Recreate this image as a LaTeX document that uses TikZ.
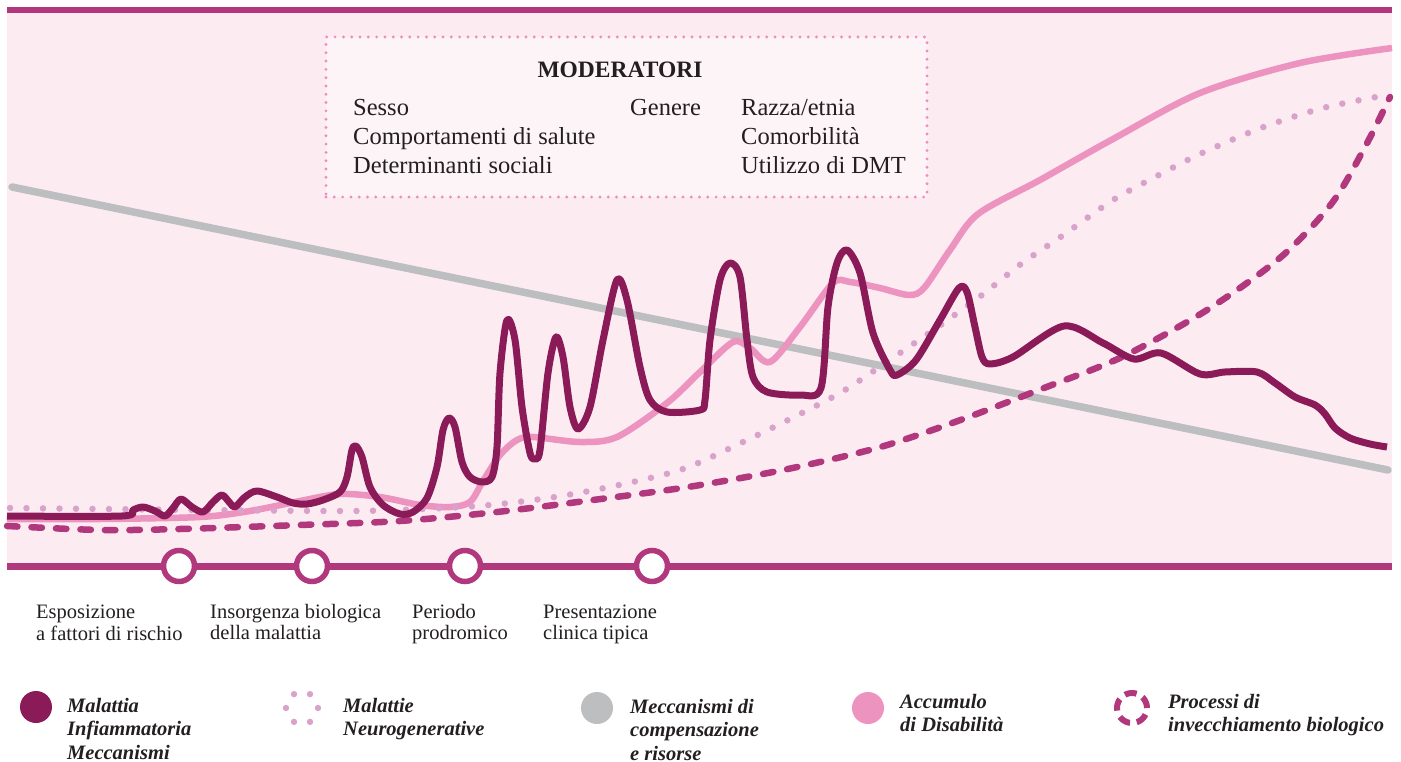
\documentclass[tikz,border=0pt]{standalone}
\usepackage{fontspec}
\setmainfont{Liberation Serif}
\definecolor{barmag}{HTML}{B2387E}
\definecolor{darkinf}{HTML}{8B1B58}
\definecolor{panel}{HTML}{FCECF2}
\definecolor{accpink}{HTML}{EC94BF}
\definecolor{neurodot}{HTML}{D8A2CA}
\definecolor{compgray}{HTML}{BCBEC0}
\definecolor{boxdot}{HTML}{EF8DBC}
\definecolor{boxfill}{HTML}{FDF4F7}
\definecolor{ink}{HTML}{231F20}
\tikzset{
  modbox/.style={draw=boxdot, fill=boxfill, line width=3.2pt, line cap=round,
    dash pattern=on 0pt off 8.3pt, minimum width=601pt, minimum height=160pt},
  modtxt/.style={anchor=north west, inner sep=0pt, align=left, text=ink,
    font=\fontsize{24.5}{29}\selectfont},
  tltxt/.style={anchor=north west, inner sep=0pt, align=left, text=ink,
    font=\fontsize{20.5}{20.5}\selectfont},
  legtxt/.style={anchor=north west, inner sep=0pt, align=left, text=ink,
    font=\fontsize{20.5}{23.5}\selectfont\bfseries\itshape},
  stage/.style={circle, draw=barmag, fill=white, line width=5.5pt,
    minimum size=31pt, inner sep=0pt},
  legdot/.style={circle, minimum size=32pt, inner sep=0pt},
  darkline/.style={draw=darkinf, line width=7pt, line join=round},
  pinkline/.style={draw=accpink, line width=6.5pt, line join=round},
  neuroline/.style={draw=neurodot, line width=6.5pt, line cap=round, dash pattern=on 0pt off 16.5pt},
  ageline/.style={draw=barmag, line width=6.5pt, line cap=round, dash pattern=on 10.5pt off 14pt},
}
\begin{document}
\begin{tikzpicture}[x=1pt,y=-1pt]
\useasboundingbox (0,0) rectangle (1401,762);

% sfondo
\fill[panel] (7,7) rectangle (1392,566);
\fill[barmag] (7,7.5) rectangle (1392,13.5);

% riquadro moderatori
\node[modbox] (box) at (626.5,117) {};
\node[anchor=base, inner sep=0pt, text=ink, font=\fontsize{23.5}{23.5}\selectfont\bfseries] (title) at (620,78) {MODERATORI};
\node[modtxt] (col1) at (353,94.7) {\strut Sesso\\Comportamenti di salute\\Determinanti sociali};
\node[modtxt] (col2) at (630,94.7) {\strut Genere};
\node[modtxt] (col3) at (741,94.7) {\strut Razza/etnia\\Comorbilità\\Utilizzo di DMT};

% curve
\coordinate (g0) at (12,187);
\coordinate (g1) at (1388,470);
\draw[compgray, line width=7.5pt, line cap=round] (g0) -- (g1);

\draw[pinkline] plot[smooth] coordinates {(7,519) (100,519) (200,517) (250,511) (300,501)
  (340,494) (380,497) (420,505) (450,507) (470,502) (483,481) (500,455) (517,440) (533,437)
  (580,442) (617,437) (667,403) (700,372) (733,342) (750,348) (770,362) (800,327) (833,283)
  (850,282) (880,288) (909,295) (924,288) (950,250) (978,214) (1040,180) (1113,139)
  (1200,93) (1300,63) (1392,48)};

\draw[neuroline] plot[smooth] coordinates {(10,508) (200,510) (350,511) (423,509) (490,505)
  (555,497) (619,485) (683,469) (743,442) (802,413) (845,390) (900,353) (942,324) (982,295)
  (1021,264) (1062,236) (1113,200) (1157,176) (1200,154) (1261,128) (1323,108) (1387,95)};

\draw[ageline] plot[smooth] coordinates {(7,526) (100,530) (180,529) (300,525) (400,521)
  (497,512) (593,500) (688,487) (783,470) (877,448) (955,422) (1044,388) (1122,357)
  (1207,310) (1281,257) (1332,203) (1365,147) (1390,97)};

\draw[darkline] plot[smooth] coordinates {(7,516) (122,516) (133,510) (143,507) (155,511)
  (165,516) (173,508) (181,499) (192,507) (203,512) (213,502) (222,495) (230,503) (235,507)
  (245,497) (257,491) (277,497) (293,503) (307,504) (323,500) (340,492) (347,477) (352,450)
  (356,446) (362,457) (370,487) (383,505) (400,514) (413,512) (427,498) (437,467) (443,430)
  (449,418) (455,427) (462,462) (470,477) (482,482) (492,477) (497,447) (500,373) (507,320)
  (515,340) (522,407) (530,453) (535,459) (540,450) (548,373) (556,337) (563,357) (570,407)
  (578,429) (590,407) (603,340) (617,280) (627,300) (640,367) (650,400) (667,412) (700,410)
  (705,400) (710,340) (720,280) (730,263) (740,277) (747,340) (753,377) (767,392) (800,395)
  (821,388) (828,307) (837,263) (847,250) (860,273) (873,333) (890,370) (897,375) (916,360)
  (940,320) (959,288) (967,292) (975,327) (982,357) (990,364) (1013,357) (1064,326)
  (1103,343) (1134,359) (1161,353) (1200,374) (1225,372) (1257,372) (1275,383) (1295,397)
  (1315,405) (1325,414) (1335,428) (1350,438) (1370,444) (1387,447)};

% linea del tempo
\coordinate (tl) at (7,566);
\coordinate (tr) at (1392,566);
\draw[barmag, line width=7pt] (tl) -- (tr);
\node[stage] (s1) at (179,566) {};
\node[stage] (s2) at (312,566) {};
\node[stage] (s3) at (465,566) {};
\node[stage] (s4) at (652,566) {};

\node[tltxt] (e1) at (36,604) {\strut Esposizione\\a fattori di rischio};
\node[tltxt] (e2) at (210,604) {\strut Insorgenza biologica\\della malattia};
\node[tltxt] (e3) at (412,604) {\strut Periodo\\prodromico};
\node[tltxt] (e4) at (543,604) {\strut Presentazione\\clinica tipica};

% legenda
\node[legdot, fill=darkinf] (k1) at (36,707) {};
\foreach \a in {0,60,...,300}
  \fill[neurodot] (302,708) ++(\a:16pt) circle (3.2pt);
\coordinate (k2) at (302,708);
\node[legdot, fill=compgray] (k3) at (597,708) {};
\node[legdot, fill=accpink] (k4) at (868,708) {};
\coordinate (k5) at (1132,708);
\draw[barmag, line width=6pt, dash pattern=on 12pt off 6.85pt] (k5) circle (15pt);

\node[legtxt] (d1) at (67,695.5) {\strut Malattia\\Infiammatoria\\Meccanismi};
\node[legtxt] (d2) at (343,695.5) {\strut Malattie\\Neurogenerative};
\node[legtxt] (d3) at (630,696.5) {\strut Meccanismi di\\compensazione\\e risorse};
\node[legtxt] (d4) at (900,691.5) {\strut Accumulo\\di Disabilità};
\node[legtxt] (d5) at (1168,691.5) {\strut Processi di\\invecchiamento biologico};
\end{tikzpicture}
\end{document}
